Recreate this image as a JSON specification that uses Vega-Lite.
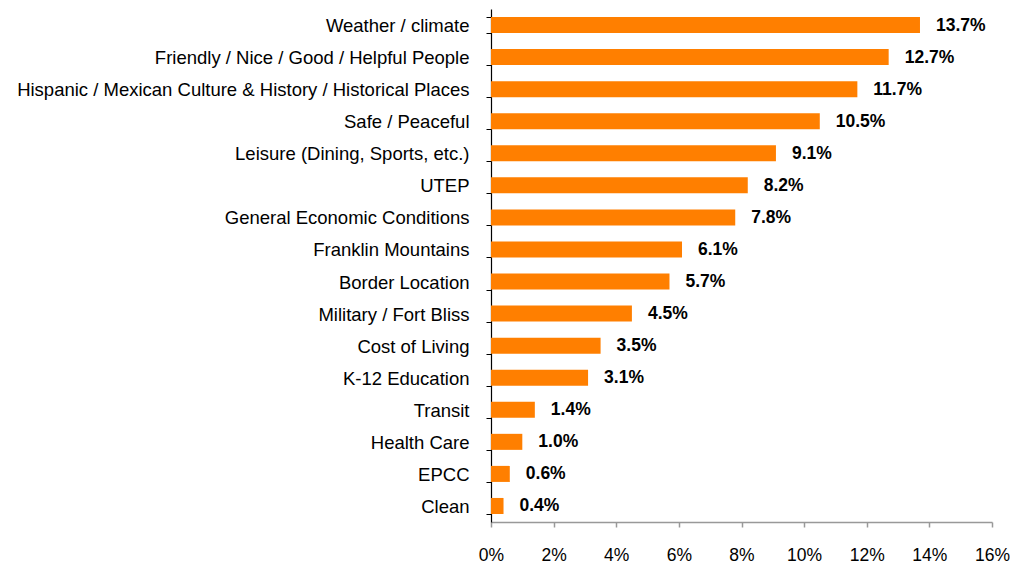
{
  "$schema": "https://vega.github.io/schema/vega-lite/v6.json",
  "autosize": "none",
  "width": 501,
  "height": 513,
  "padding": {"left": 491, "top": 9, "right": 18, "bottom": 43},
  "background": "white",
  "config": {"view": {"stroke": null}, "font": "Liberation Sans"},
  "data": {"values": [
    {"item": "Weather / climate", "share": 0.137},
    {"item": "Friendly / Nice / Good / Helpful People", "share": 0.127},
    {"item": "Hispanic / Mexican Culture & History / Historical Places", "share": 0.117},
    {"item": "Safe / Peaceful", "share": 0.105},
    {"item": "Leisure (Dining, Sports, etc.)", "share": 0.091},
    {"item": "UTEP", "share": 0.082},
    {"item": "General Economic Conditions", "share": 0.078},
    {"item": "Franklin Mountains", "share": 0.061},
    {"item": "Border Location", "share": 0.057},
    {"item": "Military / Fort Bliss", "share": 0.045},
    {"item": "Cost of Living", "share": 0.035},
    {"item": "K-12 Education", "share": 0.031},
    {"item": "Transit", "share": 0.014},
    {"item": "Health Care", "share": 0.010},
    {"item": "EPCC", "share": 0.006},
    {"item": "Clean", "share": 0.004}
  ]},
  "encoding": {
    "y": {
      "field": "item", "type": "nominal", "sort": null, "title": null,
      "scale": {"paddingInner": 0.5, "paddingOuter": 0.25},
      "axis": {
        "domainColor": "black", "domainWidth": 1.2, "tickColor": "black", "tickSize": 5,
        "tickBand": "extent", "labelFontSize": 18.5, "labelColor": "black",
        "labelPadding": 17, "labelLimit": 700, "labelOffset": 0.5
      }
    },
    "x": {
      "field": "share", "type": "quantitative", "title": null,
      "scale": {"domain": [0, 0.16], "nice": false},
      "axis": {
        "values": [0, 0.02, 0.04, 0.06, 0.08, 0.1, 0.12, 0.14, 0.16],
        "format": ".0%", "grid": false, "domainColor": "#999999", "tickColor": "#999999",
        "domainWidth": 1.5, "tickWidth": 1.5, "labelFlush": false, "labelOverlap": false,
        "tickSize": 5, "labelFontSize": 17.5, "labelColor": "black", "labelPadding": 19
      }
    }
  },
  "layer": [
    {"mark": {"type": "bar", "color": "#FF7F00"}},
    {
      "mark": {"type": "text", "align": "left", "dx": 16, "dy": 0.5, "fontWeight": "bold", "fontSize": 17.5, "color": "black"},
      "encoding": {"text": {"field": "share", "type": "quantitative", "format": ".1%"}}
    }
  ]
}
